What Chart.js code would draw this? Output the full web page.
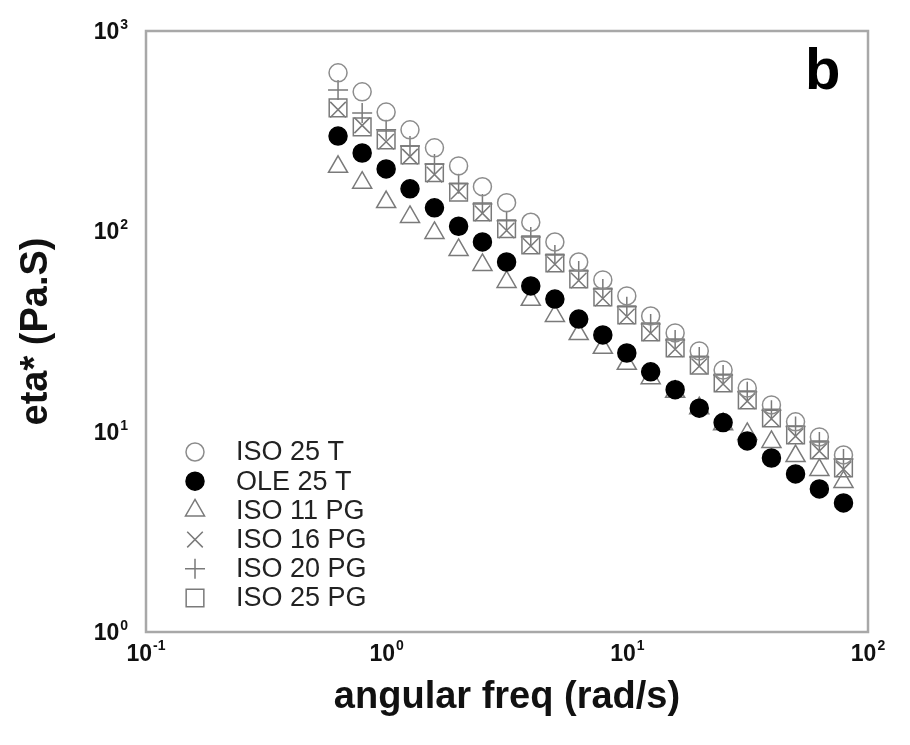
<!DOCTYPE html>
<html>
<head>
<meta charset="utf-8">
<title>eta* vs angular freq</title>
<script src="https://cdn.jsdelivr.net/npm/chart.js@4/dist/chart.umd.min.js"></script>
<style>
  html, body { margin: 0; padding: 0; background: #fff; }
  #wrap { width: 910px; height: 745px; }
</style>
</head>
<body>
<div id="wrap"><canvas id="myChart" width="910" height="745"></canvas></div>
<script>
// angular frequency (rad/s), 10 points per decade
var freq = [0.628, 0.791, 0.995, 1.25, 1.58, 1.99, 2.5, 3.15, 3.97, 5.0, 6.28,
            7.91, 9.95, 12.5, 15.8, 19.9, 25.0, 31.5, 39.7, 50.0, 62.8, 79.1];

// complex viscosity eta* (Pa.s)
var iso25T  = [618, 497, 394, 321, 261, 212, 167, 139, 111, 88.5, 70.3,
               57.2, 47.6, 37.8, 31.1, 25.3, 20.3, 16.5, 13.6, 11.2, 9.41, 7.65];
var ole25T  = [299, 246, 205, 163, 131, 106, 88.5, 70.3, 53.4, 45.9, 36.5,
               30.4, 24.7, 19.9, 16.2, 13.1, 11.1, 8.99, 7.39, 6.15, 5.18, 4.41];
var iso11PG = [210, 175, 140, 118, 98.2, 80.7, 68.0, 55.9, 45.5, 37.8, 30.7,
               26.2, 21.8, 18.5, 15.8, 13.1, 10.9, 9.74, 8.89, 7.56, 6.44, 5.61];
var iso16PG = [405, 338, 280, 236, 192, 158, 123, 101, 84.5, 68.5, 56.8,
               46.2, 37.6, 31.0, 25.8, 21.2, 17.3, 14.2, 11.6, 9.5, 8.0, 6.5];
var iso20PG = [508, 390, 321, 267, 217, 173, 137, 113, 93.7, 76.2, 63.4,
               51.5, 42.0, 34.5, 28.7, 23.6, 19.2, 15.8, 12.8, 10.6, 8.89, 7.31];
var iso25PG = [413, 332, 286, 241, 196, 157, 125, 103, 85.5, 69.5, 57.8,
               47.0, 38.3, 31.5, 26.2, 21.5, 17.5, 14.4, 11.7, 9.63, 8.11, 6.59];

var seriesNames = ['ISO 25 T', 'OLE 25 T', 'ISO 11 PG', 'ISO 16 PG', 'ISO 20 PG', 'ISO 25 PG'];
var seriesValues = [iso25T, ole25T, iso11PG, iso16PG, iso20PG, iso25PG];

// decade tick labels: base 10 with superscript exponent
var xTicks = [0.1, 1, 10, 100];
var xTickExp = ['-1', '0', '1', '2'];
var yTicks = [1, 10, 100, 1000];
var yTickExp = ['0', '1', '2', '3'];

var FONT = "'Liberation Sans', Arial, Helvetica, sans-serif";
var GRAY = '#7a7a7a';

var styles = [
  { pointStyle: 'circle',   radius: 9,    bg: 'rgba(0,0,0,0)', border: '#8c8c8c' },
  { pointStyle: 'circle',   radius: 9,    bg: '#000',          border: '#000' },
  { pointStyle: 'triangle', radius: 11,   bg: 'rgba(0,0,0,0)', border: GRAY },
  { pointStyle: 'crossRot', radius: 11,   bg: 'rgba(0,0,0,0)', border: GRAY },
  { pointStyle: 'cross',    radius: 10,   bg: 'rgba(0,0,0,0)', border: GRAY },
  { pointStyle: 'rect',     radius: 12.5, bg: 'rgba(0,0,0,0)', border: GRAY }
];

var datasets = seriesNames.map(function (name, i) {
  return {
    label: name,
    data: freq.map(function (f, j) { return { x: f, y: seriesValues[i][j] }; }),
    pointStyle: styles[i].pointStyle,
    pointRadius: styles[i].radius,
    pointBackgroundColor: styles[i].bg,
    pointBorderColor: styles[i].border,
    pointBorderWidth: 1.5,
    showLine: false
  };
});

// frame, decade labels, inset legend and panel letter
var decorations = {
  id: 'decorations',
  beforeDatasetsDraw: function (chart) {
    var ctx = chart.ctx, a = chart.chartArea;
    ctx.save();
    ctx.strokeStyle = '#a8a8a8';
    ctx.lineWidth = 2.5;
    ctx.strokeRect(a.left, a.top, a.right - a.left, a.bottom - a.top);
    ctx.restore();
  },
  afterDraw: function (chart) {
    var ctx = chart.ctx;
    var xs = chart.scales.x, ys = chart.scales.y;
    var baseFont = 'bold 23px ' + FONT, expFont = 'bold 14px ' + FONT;
    ctx.save();
    ctx.fillStyle = '#111';
    ctx.textBaseline = 'alphabetic';

    xTicks.forEach(function (v, i) {
      var px = xs.getPixelForValue(v);
      ctx.font = baseFont;
      var w1 = ctx.measureText('10').width;
      ctx.font = expFont;
      var w2 = ctx.measureText(xTickExp[i]).width;
      var x0 = px - (w1 + w2 + 1) / 2;
      ctx.font = baseFont;
      ctx.textAlign = 'left';
      ctx.fillText('10', x0, 661);
      ctx.font = expFont;
      ctx.fillText(xTickExp[i], x0 + w1 + 1, 650);
    });

    yTicks.forEach(function (v, i) {
      var py = ys.getPixelForValue(v);
      var right = 128;
      ctx.font = expFont;
      var w2 = ctx.measureText(yTickExp[i]).width;
      ctx.textAlign = 'left';
      ctx.fillText(yTickExp[i], right - w2, py - 2);
      ctx.font = baseFont;
      ctx.textAlign = 'right';
      ctx.fillText('10', right - w2 - 1, py + 8);
    });

    // legend inside the plot, lower left
    ctx.textAlign = 'left';
    ctx.textBaseline = 'middle';
    ctx.font = '27px ' + FONT;
    seriesNames.forEach(function (name, i) {
      var y = 452 + i * 29.2;
      ctx.fillStyle = styles[i].bg;
      ctx.strokeStyle = styles[i].border;
      ctx.lineWidth = 1.5;
      Chart.helpers.drawPoint(ctx, {
        pointStyle: styles[i].pointStyle,
        radius: styles[i].radius,
        borderWidth: 1.5,
        rotation: 0
      }, 195, y);
      ctx.fillStyle = '#222';
      ctx.fillText(name, 236, y + 1);
    });

    // panel letter
    ctx.font = 'bold 58px ' + FONT;
    ctx.textBaseline = 'alphabetic';
    ctx.fillStyle = '#000';
    ctx.fillText('b', 805, 89);
    ctx.restore();
  }
};

var ctx = document.getElementById('myChart').getContext('2d');
var chart = new Chart(ctx, {
  type: 'scatter',
  data: { datasets: datasets },
  options: {
    responsive: false,
    animation: false,
    layout: { padding: { top: 31, right: 42, left: 0, bottom: 0 } },
    plugins: {
      legend: { display: false },
      tooltip: { enabled: false }
    },
    scales: {
      x: {
        type: 'logarithmic',
        min: 0.1,
        max: 100,
        grid: { display: false },
        border: { display: false },
        ticks: { display: false },
        afterFit: function (scale) { scale.height = 113; },
        title: {
          display: true,
          text: 'angular freq (rad/s)',
          color: '#111',
          font: { family: FONT, size: 38, weight: 'bold' },
          padding: { top: 0, bottom: 25 }
        }
      },
      y: {
        type: 'logarithmic',
        min: 1,
        max: 1000,
        grid: { display: false },
        border: { display: false },
        ticks: { display: false },
        afterFit: function (scale) { scale.width = 146; },
        title: {
          display: true,
          text: 'eta* (Pa.S)',
          color: '#111',
          font: { family: FONT, size: 38, weight: 'bold' },
          padding: { top: 14, bottom: 0 }
        }
      }
    }
  },
  plugins: [decorations]
});
</script>
</body>
</html>
